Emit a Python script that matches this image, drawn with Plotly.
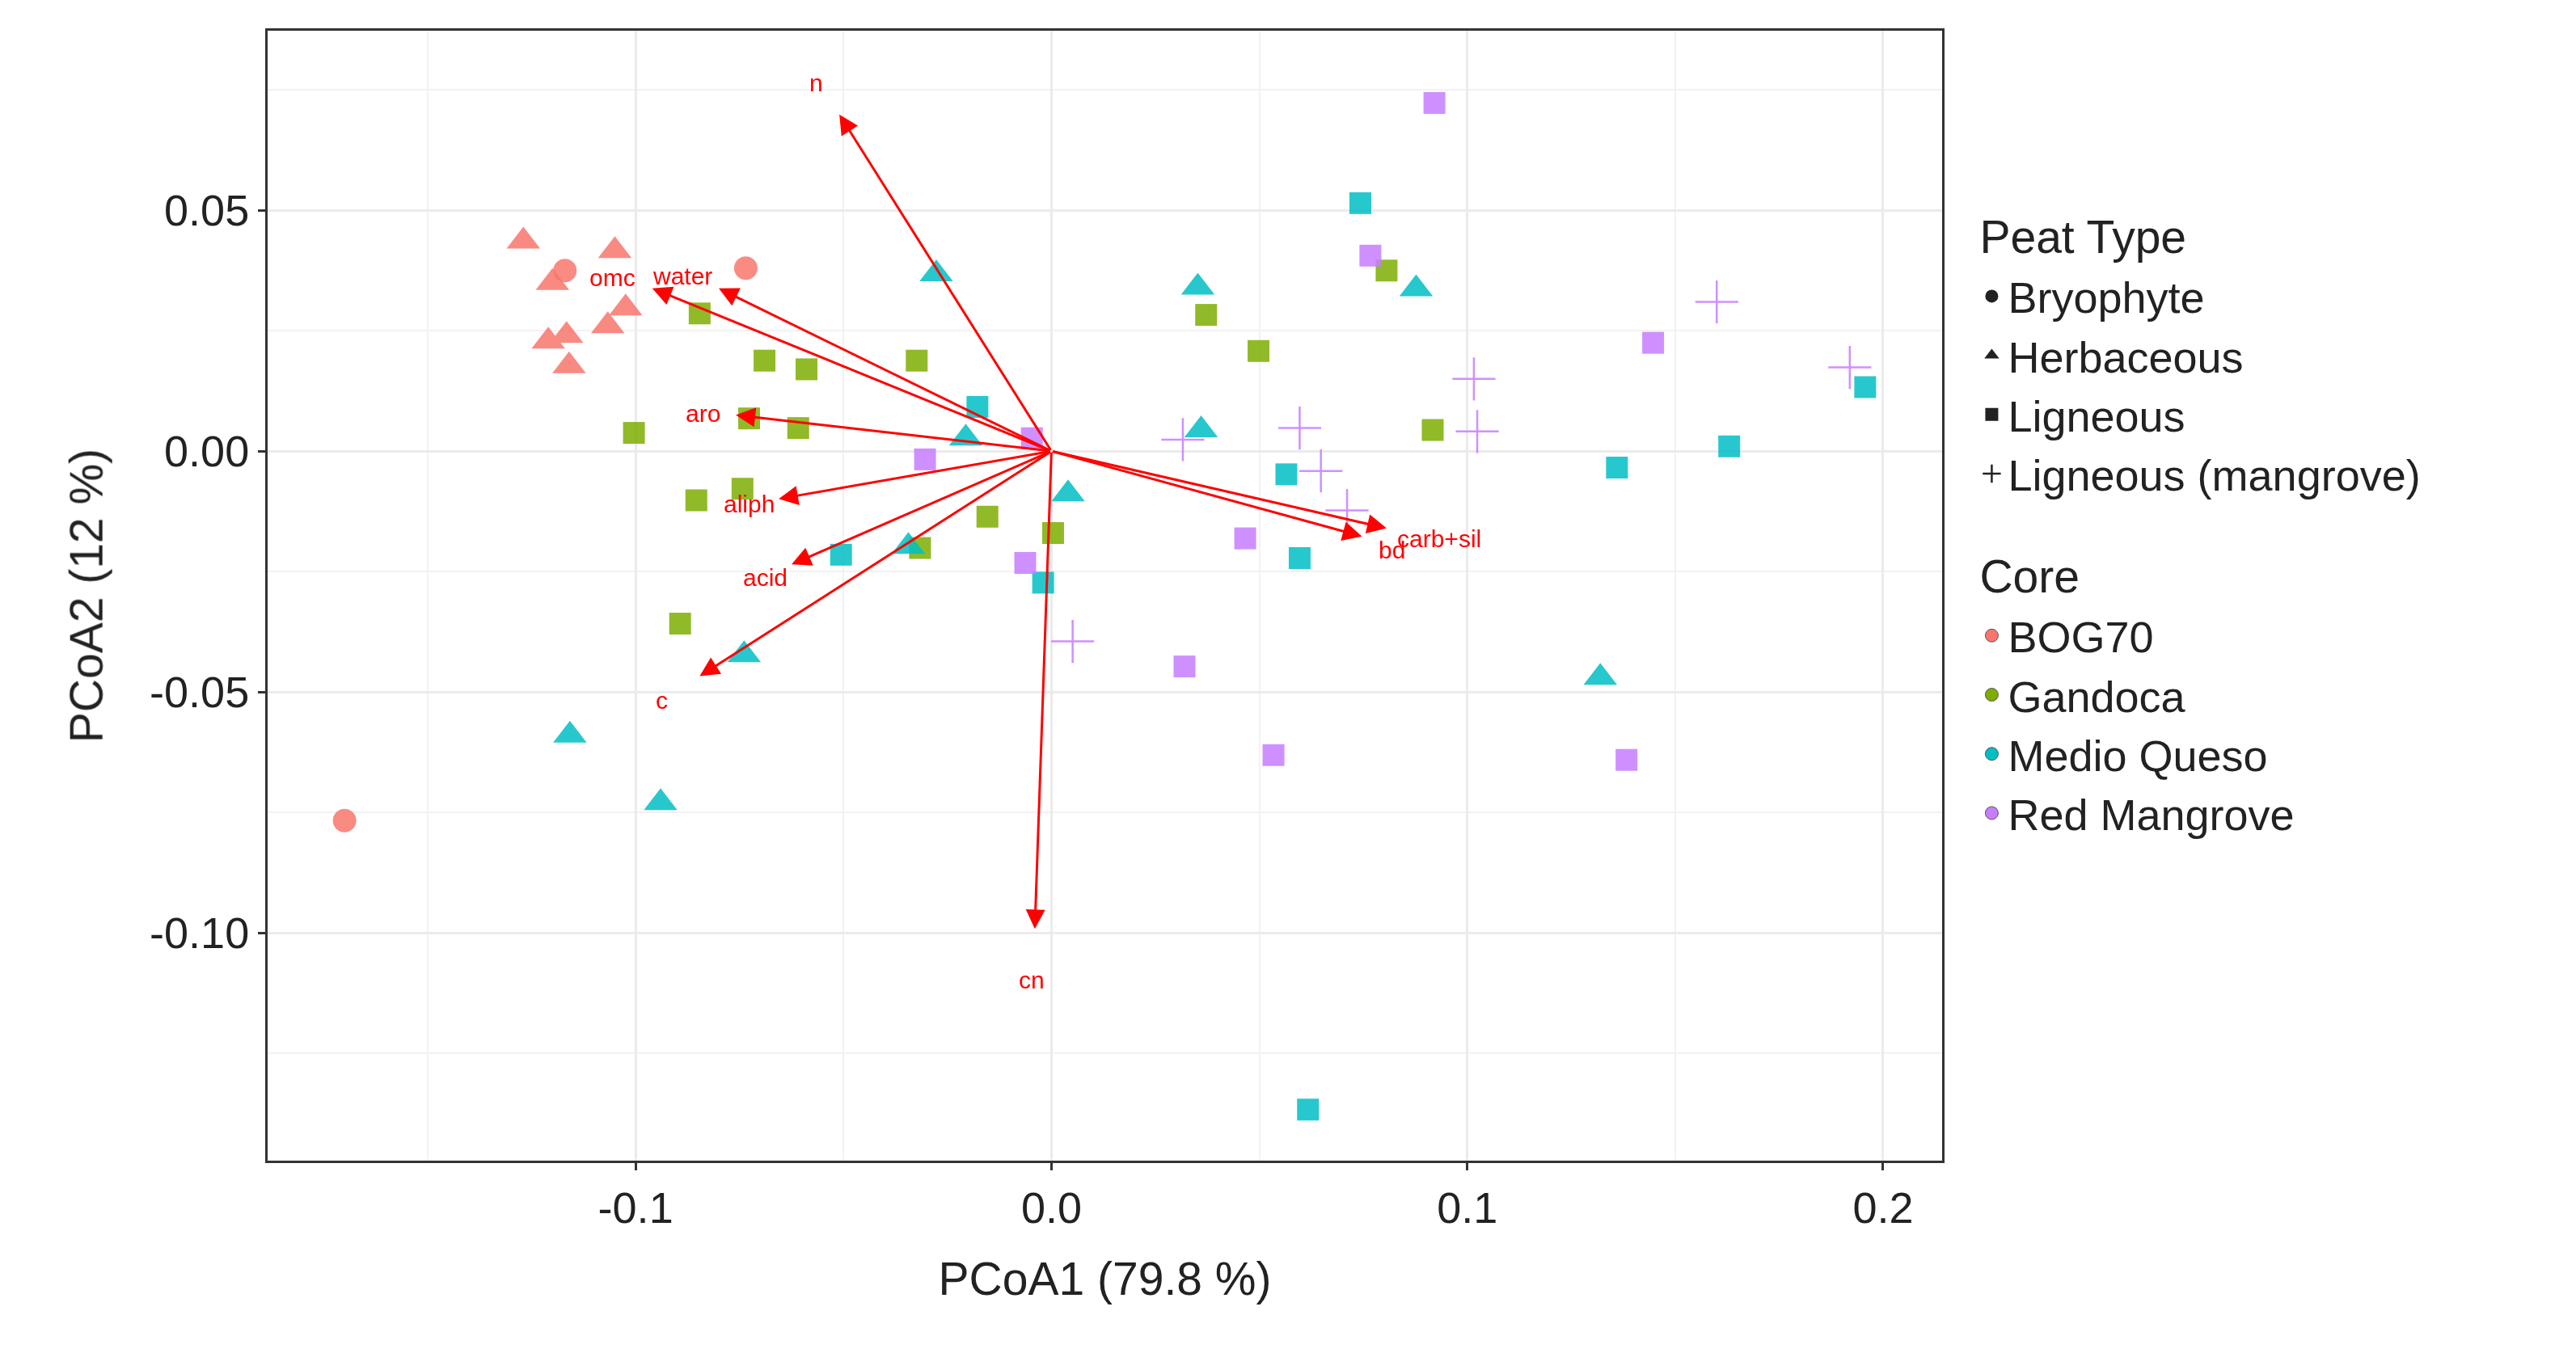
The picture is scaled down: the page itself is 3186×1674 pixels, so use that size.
import plotly.graph_objects as go

# sample scores (PCoA1, PCoA2) by core and peat type
bog_bryo_x = [-0.117, -0.0735, -0.170]
bog_bryo_y = [0.0375, 0.038, -0.0767]
bog_herb_x = [-0.127, -0.105, -0.120, -0.1024, -0.1067, -0.121, -0.1166, -0.116]
bog_herb_y = [0.0436, 0.0416, 0.035, 0.0297, 0.026, 0.0228, 0.024, 0.0177]
gan_lig_x = [-0.0846, -0.069, -0.0589, -0.0324, -0.1004, -0.0727, -0.0609, -0.0854, -0.0743,
             -0.0893, -0.0154, 0.0004, -0.0316, 0.0372, 0.0498, 0.0806, 0.0917]
gan_lig_y = [0.0286, 0.0188, 0.017, 0.0188, 0.0038, 0.0068, 0.0048, -0.0102, -0.0078,
             -0.0358, -0.0136, -0.017, -0.0201, 0.0283, 0.0208, 0.0375, 0.0044]
mq_lig_x = [-0.0178, -0.0506, -0.002, 0.0743, 0.0565, 0.0597, 0.136, 0.163, 0.1957, 0.0617]
mq_lig_y = [0.0092, -0.0215, -0.0273, 0.0515, -0.0048, -0.0222, -0.0034, 0.001, 0.0133, -0.1367]
mq_herb_x = [-0.0277, -0.0206, 0.004, -0.0344, -0.0739, -0.1158, -0.094, 0.0352, 0.036, 0.0877, 0.132]
mq_herb_y = [0.0368, 0.0027, -0.0089, -0.0198, -0.0423, -0.059, -0.073, 0.034, 0.0044, 0.0337, -0.047]
rm_lig_x = [-0.0304, -0.0047, -0.0063, 0.0921, 0.0767, 0.0466, 0.032, 0.0534, 0.1447, 0.1383]
rm_lig_y = [-0.0017, 0.0027, -0.0232, 0.0723, 0.0406, -0.0181, -0.0447, -0.0631, 0.0225, -0.0641]
rm_mang_x = [0.0051, 0.0316, 0.0597, 0.0648, 0.0711, 0.1016, 0.1024, 0.160, 0.192]
rm_mang_y = [-0.0395, 0.0024, 0.0048, -0.0041, -0.0123, 0.015, 0.0041, 0.031, 0.0174]

# environmental vectors
vec_names = ["n", "omc", "water", "aro", "aliph", "acid", "c", "cn", "bd", "carb+sil"]
vec_x = [-0.051, -0.096, -0.080, -0.0759, -0.0656, -0.0625, -0.0846, -0.004, 0.0747, 0.0806]
vec_y = [0.0699, 0.0338, 0.0338, 0.0075, -0.0099, -0.0235, -0.0467, -0.0992, -0.0177, -0.016]
lab_x = [-0.0565, -0.1055, -0.0888, -0.0838, -0.0727, -0.0688, -0.0937, -0.0047, 0.0818, 0.0933]
lab_y = [0.0764, 0.036, 0.0363, 0.0078, -0.0109, -0.0263, -0.0518, -0.1098, -0.0205, -0.0181]

x_ticks = [-0.1, 0.0, 0.1, 0.2]
x_ticklabels = ["-0.1", "0.0", "0.1", "0.2"]
y_ticks = [-0.10, -0.05, 0.0, 0.05]
y_ticklabels = ["-0.10", "-0.05", "0.00", "0.05"]

cores = ["BOG70", "Gandoca", "Medio Queso", "Red Mangrove"]
core_cols = ["#F8766D", "#7CAE00", "#00BFC4", "#C77CFF"]
peat_types = ["Bryophyte", "Herbaceous", "Ligneous", "Ligneous (mangrove)"]
peat_symbols = ["circle", "triangle-up", "square", "cross-thin"]
sym_size = {"circle": 29, "triangle-up": 36, "square": 27, "cross-thin": 38}

groups = [
    (bog_bryo_x, bog_bryo_y, 0, 0), (bog_herb_x, bog_herb_y, 0, 1),
    (gan_lig_x, gan_lig_y, 1, 2), (mq_lig_x, mq_lig_y, 2, 2),
    (mq_herb_x, mq_herb_y, 2, 1), (rm_lig_x, rm_lig_y, 3, 2),
    (rm_mang_x, rm_mang_y, 3, 3),
]


def marker(sym, col):
    mk = dict(color=col, size=sym_size[sym], symbol=sym, line=dict(width=0))
    if sym == "cross-thin":
        mk["line"] = dict(color=col, width=2.5)
    return mk


fig = go.Figure()
for gx, gy, ci, pi in groups:
    fig.add_trace(go.Scatter(x=gx, y=gy, mode="markers", opacity=0.85,
                             marker=marker(peat_symbols[pi], core_cols[ci]), showlegend=False))

font = "Liberation Sans, Arial, sans-serif"
for i, p in enumerate(peat_types):
    fig.add_trace(go.Scatter(x=[None], y=[None], mode="markers", marker=marker(peat_symbols[i], "#222"),
                             name=p, legendgroup="peat", legendgrouptitle=dict(text="Peat Type")))
for i, c in enumerate(cores):
    fig.add_trace(go.Scatter(x=[None], y=[None], mode="markers", name=c,
                             marker=dict(color=core_cols[i], size=27, symbol="circle",
                                         line=dict(color="#555", width=1)),
                             legendgroup="core", legendgrouptitle=dict(text="Core")))

for i, nm in enumerate(vec_names):
    fig.add_annotation(x=vec_x[i], y=vec_y[i], ax=0, ay=0, xref="x", yref="y", axref="x", ayref="y",
                       showarrow=True, arrowhead=2, arrowsize=1.6, arrowwidth=3, arrowcolor="red", text="")
    fig.add_annotation(x=lab_x[i], y=lab_y[i], text=nm, showarrow=False,
                       font=dict(color="red", size=30, family=font))

ax_common = dict(showgrid=True, gridcolor="#EBEBEB", gridwidth=3, zeroline=False,
                 showline=True, linecolor="#333", linewidth=3, mirror=True,
                 ticks="outside", ticklen=9, tickwidth=3, tickcolor="#333",
                 tickfont=dict(size=54, color="#222", family=font),
                 minor=dict(showgrid=True, gridcolor="#F2F2F2", gridwidth=2))
fig.update_xaxes(ax_common, range=[-0.1885, 0.2142], tickvals=x_ticks, ticktext=x_ticklabels,
                 minor_dtick=0.05, minor_tick0=0,
                 title=dict(text="PCoA1 (79.8 %)", standoff=40, font=dict(size=57, family=font, color="#222")))
fig.update_yaxes(ax_common, range=[-0.1473, 0.0873], tickvals=y_ticks, ticktext=y_ticklabels,
                 minor_dtick=0.025, minor_tick0=0,
                 title=dict(text="PCoA2 (12 %)", standoff=40, font=dict(size=57, family=font, color="#222")))

fig.update_layout(
    width=3186, height=1674, plot_bgcolor="white", paper_bgcolor="white",
    margin=dict(l=323, r=792, t=30, b=246),
    font=dict(family=font, color="#222"),
    legend=dict(x=1.02, y=0.85, xanchor="left", yanchor="top", tracegroupgap=50,
                font=dict(size=54, family=font), grouptitlefont=dict(size=57, family=font),
                itemsizing="trace"),
)
fig.write_html("out.html")
